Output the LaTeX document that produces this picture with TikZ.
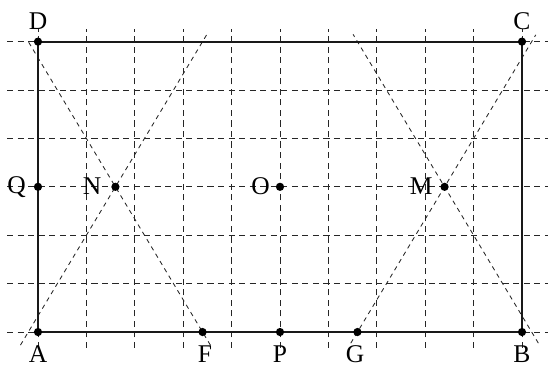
\documentclass[tikz,border=0pt]{standalone}
\usepackage{fontspec}
\setmainfont{Liberation Serif}
\begin{document}
\begin{tikzpicture}[x=1cm,y=1cm,
  gridline/.style={black!85,line width=0.5pt,dash pattern=on 3.6pt off 2.6pt},
  diagline/.style={black!85,line width=0.5pt,dash pattern=on 2.6pt off 2.4pt},
  rectline/.style={black!90,line width=1.2pt},
  dot/.style={circle,fill=black,inner sep=0pt,minimum size=0.17cm},
  lab/.style={inner sep=0pt,font=\fontsize{15}{17}\selectfont}]
\useasboundingbox (-0.785,-0.723) rectangle (10.558,6.86);
% grid
\foreach \i in {0,...,10} {
  \coordinate (vb\i) at (\i,-0.33);
  \coordinate (vt\i) at (\i,6.26);
  \draw[gridline] (vb\i) -- (vt\i);
}
\foreach \j in {0,...,6} {
  \coordinate (hl\j) at (-0.64,\j);
  \coordinate (hr\j) at (10.54,\j);
  \draw[gridline] (hl\j) -- (hr\j);
}
% points
\coordinate (A) at (0,0);
\coordinate (B) at (10,0);
\coordinate (C) at (10,6);
\coordinate (D) at (0,6);
% diagonal line ends
\coordinate (L1a) at (-0.362,-0.27);
\coordinate (L1b) at (3.484,6.14);
\coordinate (L2a) at (3.562,-0.27);
\coordinate (L2b) at (-0.23,6.05);
\coordinate (L3a) at (6.462,-0.23);
\coordinate (L3b) at (10.284,6.14);
\coordinate (L4a) at (10.338,-0.23);
\coordinate (L4b) at (6.51,6.15);
\draw[diagline] (L1a) -- (L1b);
\draw[diagline] (L2a) -- (L2b);
\draw[diagline] (L3a) -- (L3b);
\draw[diagline] (L4a) -- (L4b);
% rectangle
\draw[rectline] (A) -- (B) -- (C) -- (D) -- cycle;
% dots
\node[dot] (dA) at (A) {};
\node[dot] (dB) at (B) {};
\node[dot] (dC) at (C) {};
\node[dot] (dD) at (D) {};
\node[dot] (dF) at (3.4,0) {};
\node[dot] (dP) at (5,0) {};
\node[dot] (dG) at (6.6,0) {};
\node[dot] (dQ) at (0,3) {};
\node[dot] (dN) at (1.6,3) {};
\node[dot] (dO) at (5,3) {};
\node[dot] (dM) at (8.4,3) {};
% labels
\node[lab] (lA) at (0,-0.45) {A};
\node[lab] (lB) at (10,-0.45) {B};
\node[lab] (lC) at (10,6.43) {C};
\node[lab] (lD) at (0,6.43) {D};
\node[lab] (lF) at (3.45,-0.45) {F};
\node[lab] (lP) at (5,-0.45) {P};
\node[lab] (lG) at (6.55,-0.45) {G};
\node[lab] (lQ) at (-0.44,3.0) {Q};
\node[lab] (lN) at (1.12,3.02) {N};
\node[lab] (lO) at (4.6,3.02) {O};
\node[lab] (lM) at (7.92,3.02) {M};
\end{tikzpicture}
\end{document}
